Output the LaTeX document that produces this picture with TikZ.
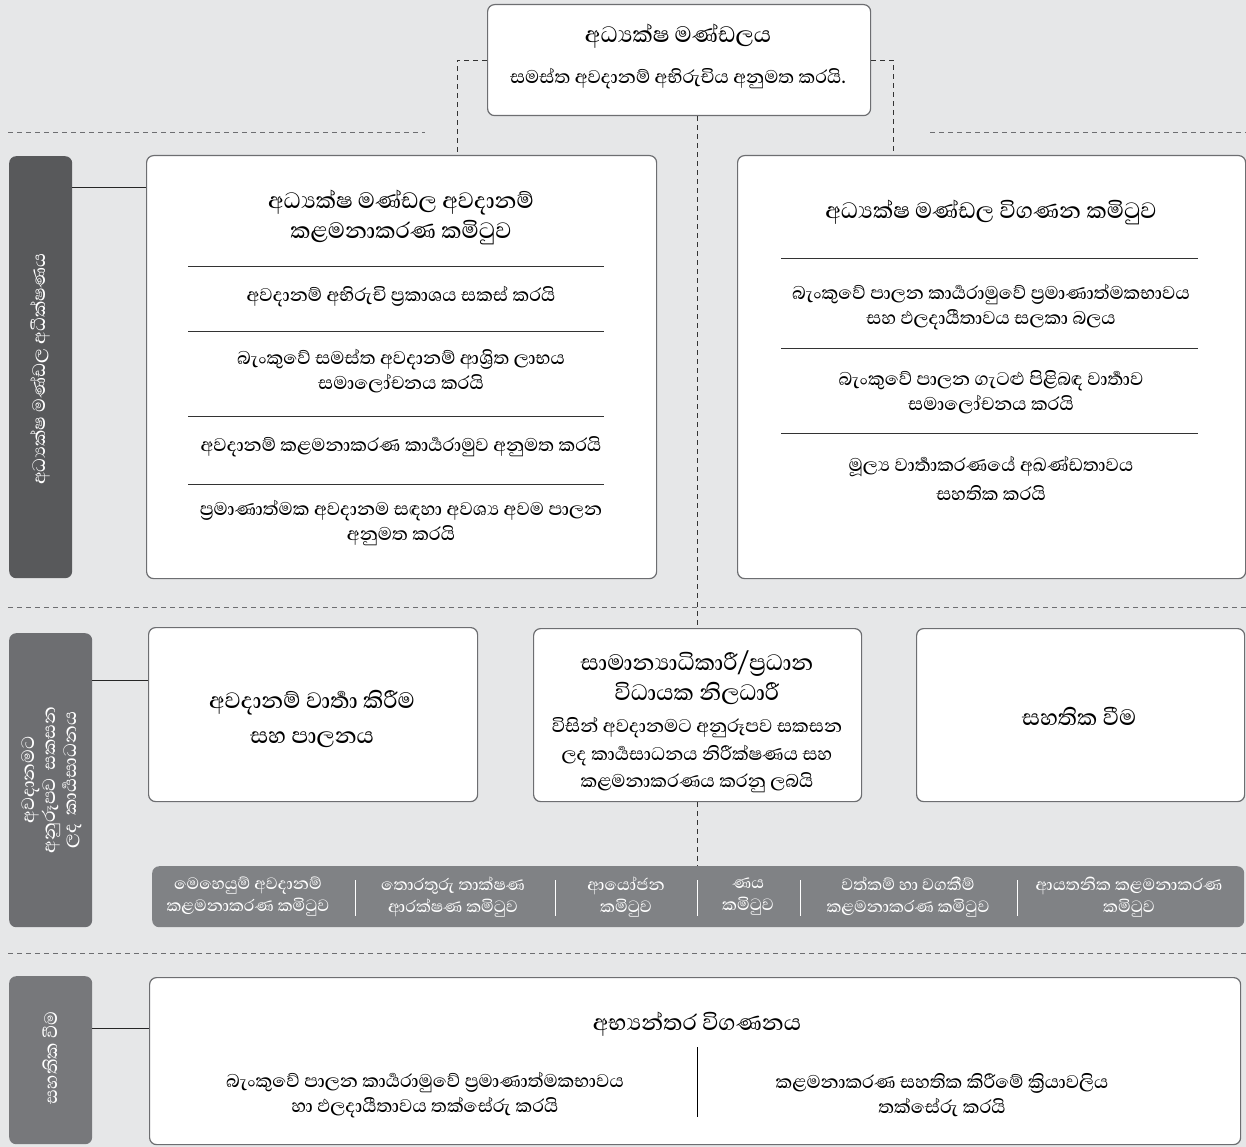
\documentclass[tikz,border=0pt]{standalone}
\usepackage{fontspec}
\setmainfont{Abhaya Libre}[Script=Sinhala, UprightFont=* Medium]
\usepackage{tikz}
\usetikzlibrary{positioning}

\definecolor{pagegray}{HTML}{E6E7E8}
\definecolor{boxline}{HTML}{6D6E71}
\definecolor{sideA}{HTML}{58595B}
\definecolor{sideB}{HTML}{6D6E71}
\definecolor{sideC}{HTML}{77787B}
\definecolor{bargray}{HTML}{808285}

\newcommand{\titlesize}{\fontsize{28.5}{30}\selectfont}
\newcommand{\itemsize}{\fontsize{23.5}{25}\selectfont}
\newcommand{\barsize}{\fontsize{21}{22}\selectfont}
\newcommand{\sidesize}{\fontsize{23}{21}\selectfont}

\begin{document}
\begin{tikzpicture}[x=1pt, y=-1pt,
    box/.style={draw=boxline, line width=1.2pt, fill=white, rounded corners=7pt, anchor=north west, inner sep=0pt},
    side/.style={rounded corners=7pt, anchor=north west, inner sep=0pt},
    sidetext/.style={text=white, rotate=90, align=center, font=\sidesize},
    ttl/.style={align=center, font=\titlesize},
    itm/.style={align=center, font=\itemsize},
    bartext/.style={align=center, text=white, font=\barsize},
    rule/.style={line width=0.9pt, black!80},
    link/.style={line width=0.9pt, black!85},
    dashline/.style={line width=0.9pt, dash pattern=on 5pt off 4pt, black!80},
    sep/.style={line width=0.9pt, dash pattern=on 5pt off 4pt, boxline}]
    \path[use as bounding box, fill=pagegray] (0,0) rectangle (1246,1147);

    % Separators
    \draw[sep] (8,132) -- (425,132);
    \draw[sep] (930,132) -- (1246,132);
    \draw[sep] (8,607) -- (1246,607);
    \draw[sep] (8,953) -- (1246,953);

    % Board
    \node (board) [box, minimum width=383pt, minimum height=111pt] at (487,4) {};
    \node (boardTitle) [ttl] at (678,36) {අධ්‍යක්ෂ මණ්ඩලය};
    \node (boardText) [itm] at (678,79) {සමස්ත අවදානම් අභිරුචිය අනුමත කරයි.};

    % Board oversight
    \node (sideOne) [side, fill=sideA, minimum width=63pt, minimum height=422pt] at (9,156) {};
    \node (sideOneText) [sidetext] at (40,369) {අධ්‍යක්ෂ මණ්ඩල අධීක්ෂණය};

    \node (brmc) [box, minimum width=510pt, minimum height=423pt] at (146,155) {};
    \node (brmcTitle) [ttl] at (401,217) {අධ්‍යක්ෂ මණ්ඩල අවදානම්\\කළමනාකරණ කමිටුව};
    \node (brmcA) [itm] at (401,297) {අවදානම් අභිරුචි ප්‍රකාශය සකස් කරයි};
    \node (brmcB) [itm] at (401,371) {බැංකුවේ සමස්ත අවදානම් ආශ්‍රිත ලාභය\\සමාලෝචනය කරයි};
    \node (brmcC) [itm] at (401,447) {අවදානම් කළමනාකරණ කාර්‍යරාමුව අනුමත කරයි};
    \node (brmcD) [itm] at (401,523) {ප්‍රමාණාත්මක අවදානම සඳහා අවශ්‍ය අවම පාලන\\අනුමත කරයි};
    \foreach \y in {266,331,416,484}
        \draw[rule] (188,\y) -- (604,\y);

    \node (bac) [box, minimum width=508pt, minimum height=423pt] at (737,155) {};
    \node (bacTitle) [ttl] at (991,212) {අධ්‍යක්ෂ මණ්ඩල විගණන කමිටුව};
    \node (bacA) [itm] at (991,307) {බැංකුවේ පාලන කාර්‍යරාමුවේ ප්‍රමාණාත්මකභාවය\\සහ ඵලදායීතාවය සලකා බලය};
    \node (bacB) [itm] at (991,392) {බැංකුවේ පාලන ගැටළු පිළිබඳ වාර්‍තාව\\සමාලෝචනය කරයි};
    \node (bacC) [itm] at (991,478) {මූල්‍ය වාර්‍තාකරණයේ අඛණ්ඩතාවය\\[4pt]සහතික කරයි};
    \foreach \y in {258,348,433}
        \draw[rule] (781,\y) -- (1198,\y);

    % Risk adjusted performance
    \node (sideTwo) [side, fill=sideB, minimum width=83pt, minimum height=294pt] at (9,633) {};
    \node (sideTwoText) [sidetext, text width=160pt] at (52,780) {අවදානමට\\අනුරූපව සකසන\\ලද කාර්‍යසාධනය};

    \node (rpt) [box, minimum width=329pt, minimum height=174pt] at (148,627) {};
    \node (rptText) [ttl] at (312,719) {අවදානම් වාර්‍තා කිරීම\\[5pt]සහ පාලනය};

    \node (ceo) [box, minimum width=328pt, minimum height=173pt] at (533,628) {};
    \node (ceoTitle) [ttl] at (697,678) {සාමාන්‍යාධිකාරී/ප්‍රධාන\\විධායක නිලධාරී};
    \node (ceoText) [itm, font=\fontsize{23.5}{27.5}\selectfont] at (697,755) {විසින් අවදානමට අනුරූපව සකසන\\ලද කාර්‍යසාධනය නිරීක්ෂණය සහ\\කළමනාකරණය කරනු ලබයි};

    \node (asr) [box, minimum width=328pt, minimum height=173pt] at (916,628) {};
    \node (asrText) [ttl] at (1079,716) {සහතික වීම};

    \node (comm) [side, fill=bargray, minimum width=1092pt, minimum height=61pt] at (152,866) {};
    \node (commA) [bartext] at (248,897) {මෙහෙයුම් අවදානම්\\කළමනාකරණ කමිටුව};
    \node (commB) [bartext] at (453,897) {තොරතුරු තාක්ෂණ\\ආරක්ෂණ කමිටුව};
    \node (commC) [bartext] at (626,897) {ආයෝජන\\කමිටුව};
    \node (commD) [bartext] at (748,897) {ණය\\කමිටුව};
    \node (commE) [bartext] at (908,897) {වත්කම් හා වගකීම්\\කළමනාකරණ කමිටුව};
    \node (commF) [bartext] at (1129,897) {ආයතනික කළමනාකරණ\\කමිටුව};
    \foreach \x in {355,555,697,800,1017}
        \draw[white, line width=0.8pt] (\x,880) -- (\x,916);

    % Assurance
    \node (sideThree) [side, fill=sideC, minimum width=83pt, minimum height=168pt] at (9,976) {};
    \node (sideThreeText) [sidetext] at (50,1058) {සහතික වීම};

    \node (audit) [box, minimum width=1091pt, minimum height=167pt] at (149,977) {};
    \node (auditTitle) [ttl] at (697,1024) {අභ්‍යන්තර විගණනය};
    \node (auditA) [itm] at (425,1095) {බැංකුවේ පාලන කාර්‍යරාමුවේ ප්‍රමාණාත්මකභාවය\\හා ඵලදායීතාවය තක්සේරු කරයි};
    \node (auditB) [itm] at (942,1095) {කළමනාකරණ සහතික කිරීමේ ක්‍රියාවලිය\\තක්සේරු කරයි};
    \draw[line width=0.9pt] (697,1047) -- (697,1117);

    % Lines
    \coordinate (brmcTop) at (457,155);
    \coordinate (bacTop) at (893,155);
    \draw[dashline] (board.west) -| (brmcTop);
    \draw[dashline] (board.east) -| (bacTop);
    \draw[dashline] (ceo.north |- board.south) -- (ceo.north);
    \draw[dashline] (ceo.south) -- (ceo.south |- comm.north);

    \coordinate (sideOneTip) at ([yshift=-31pt]sideOne.north east);
    \coordinate (sideTwoTip) at ([yshift=-47pt]sideTwo.north east);
    \coordinate (sideThreeTip) at ([yshift=-52pt]sideThree.north east);
    \draw[link] (sideOneTip) -- (sideOneTip -| brmc.west);
    \draw[link] (sideTwoTip) -- (sideTwoTip -| rpt.west);
    \draw[link] (sideThreeTip) -- (sideThreeTip -| audit.west);
\end{tikzpicture}
\end{document}
